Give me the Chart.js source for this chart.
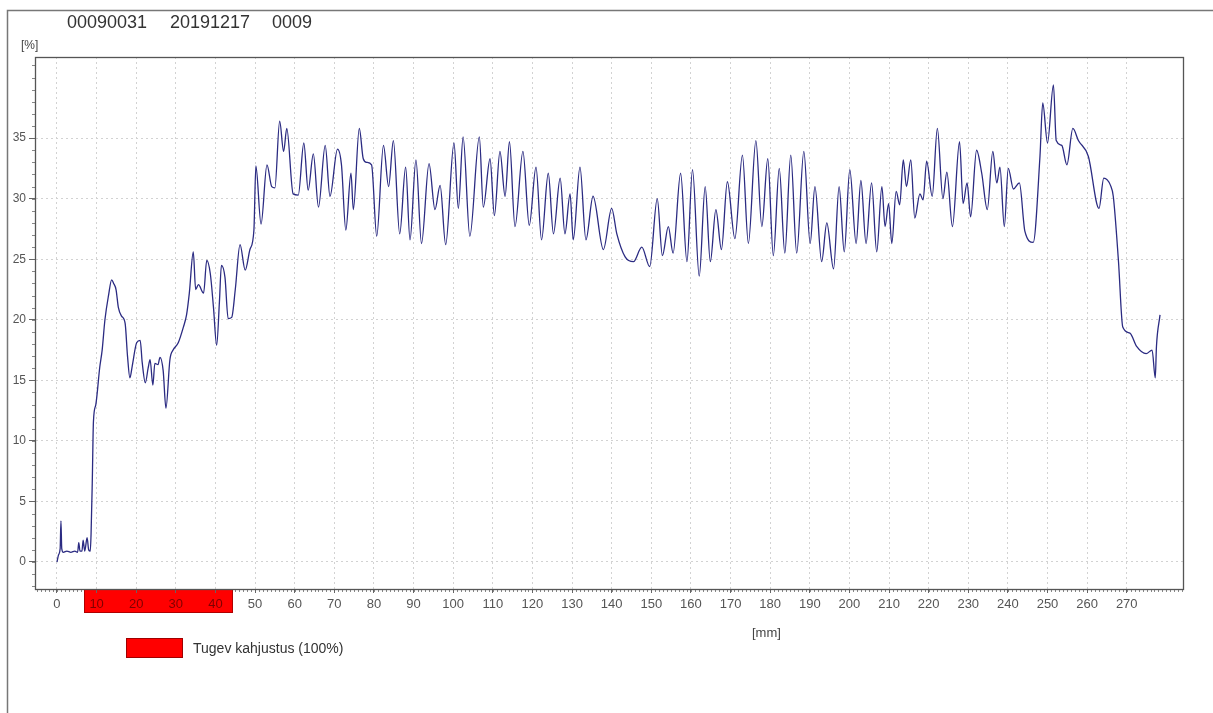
<!DOCTYPE html>
<html><head><meta charset="utf-8">
<script src="https://cdn.jsdelivr.net/npm/chart.js@4.4.1/dist/chart.umd.min.js"></script>
<style>
html,body{margin:0;padding:0;background:#fff;}
#wrap{position:relative;width:1213px;height:713px;overflow:hidden;font-family:"Liberation Sans",Arial,sans-serif;}
canvas{position:absolute;left:0;top:0;}
.t{position:absolute;white-space:pre;color:#333;line-height:1;}
#legbox{position:absolute;left:126px;top:638px;width:55px;height:18px;background:#ff0000;border:1px solid #a00000;}
</style></head><body>
<div id="wrap">
<canvas id="c" width="1213" height="713"></canvas>
<div class="t" id="h0" style="left:67px;top:13px;font-size:18px"></div>
<div class="t" id="h1" style="left:170px;top:13px;font-size:18px"></div>
<div class="t" id="h2" style="left:272px;top:13px;font-size:18px"></div>
<div class="t" style="left:21px;top:39px;font-size:12px;color:#444">[%]</div>
<div class="t" style="left:752px;top:626px;font-size:13px;color:#444">[mm]</div>
<div id="legbox"></div>
<div class="t" id="legtext" style="left:193px;top:641px;font-size:14px;color:#333"></div>
</div>
<script>
const headerTexts = ["00090031", "20191217", "0009"];
const legendLabel = "Tugev kahjustus (100%)";
const xTickValues = [0,10,20,30,40,50,60,70,80,90,100,110,120,130,140,150,160,170,180,190,200,210,220,230,240,250,260,270];
const yTickValues = [0,5,10,15,20,25,30,35];
const damageZoneMm = [6.9, 44.2];

const positionMm = [
0.0,0.4,0.8,1.0,1.2,1.6,2.5,3.5,4.5,5.2,5.5,5.8,6.3,6.6,7.0,7.6,8.0,8.4,8.6,8.9,
9.2,9.8,10.8,11.4,12.1,13.0,13.8,14.3,14.9,15.5,16.3,17.2,17.8,18.4,19.0,20.1,21.0,21.5,22.3,23.0,
23.5,24.2,24.7,25.5,26.0,26.8,27.5,28.5,29.3,30.6,31.9,32.7,33.4,34.4,35.0,35.7,37.0,37.8,38.7,39.5,
40.3,41.0,41.5,42.4,43.2,44.1,45.0,46.2,47.5,48.7,49.7,50.2,51.5,53.0,54.2,55.0,56.2,57.2,58.0,59.6,
60.9,62.3,63.4,64.7,66.0,67.7,68.9,70.8,71.8,72.9,74.2,74.8,76.3,77.3,78.2,79.4,80.7,82.4,83.7,84.9,
86.5,88.0,89.1,90.6,92.0,93.9,95.4,96.7,98.1,100.2,101.3,102.5,104.2,106.6,107.6,109.3,110.4,111.8,113.1,114.2,
115.6,117.6,119.2,120.9,122.3,124.0,125.3,127.0,128.2,129.5,130.3,132.0,133.5,135.3,137.9,140.0,141.3,143.4,145.5,147.6,
149.6,151.5,152.8,154.3,155.5,157.4,159.0,160.4,162.1,163.6,164.9,166.3,167.7,169.2,171.1,173.0,174.5,176.4,177.9,179.4,
180.8,182.3,183.7,185.2,186.7,188.5,190.1,191.3,193.0,194.3,196.0,197.4,198.7,200.1,201.7,202.9,204.2,205.6,206.9,208.2,
209.0,209.9,210.7,211.8,212.7,213.6,214.4,215.5,216.5,217.8,218.6,219.5,220.9,222.2,223.6,224.6,226.0,227.8,228.7,229.7,
230.6,232.1,233.4,234.8,236.2,237.2,238.0,239.1,240.1,241.4,242.9,244.3,246.4,248.1,248.8,250.0,251.5,252.2,253.6,254.9,
256.4,257.8,260.3,263.0,264.2,265.9,266.6,267.9,269.0,270.8,272.5,274.9,276.4,277.2,277.5,278.4
];
const moisturePct = [
0.0,0.6,1.1,3.4,1.1,0.8,0.9,0.8,0.9,0.8,1.6,0.9,0.9,1.8,0.9,2.0,1.0,0.9,2.3,6.5,
11.6,13.0,16.1,17.5,20.0,22.0,23.3,23.0,22.5,21.0,20.3,19.7,17.0,15.2,16.2,18.1,18.3,16.5,14.8,16.0,
16.7,14.6,16.4,16.3,16.9,15.8,12.7,16.7,17.5,18.1,19.4,20.4,22.2,25.6,22.5,22.9,22.2,24.9,23.8,21.0,
17.9,21.5,24.5,23.5,20.1,20.2,22.5,26.2,24.1,25.8,27.4,32.7,27.9,32.8,31.0,30.9,36.4,33.9,35.8,30.4,
30.3,34.6,30.7,33.7,29.3,34.4,30.2,34.1,32.8,27.4,32.1,29.1,35.8,33.3,33.0,32.8,26.9,34.4,31.0,34.8,
27.1,32.6,26.6,33.2,26.3,32.9,29.1,31.1,26.2,34.6,29.2,35.1,26.9,35.1,29.3,33.3,28.6,33.9,30.2,34.7,
27.7,33.9,27.8,32.6,26.6,32.1,27.1,31.7,27.1,30.4,26.6,32.6,26.6,30.2,25.8,29.2,27.1,25.2,24.8,26.0,
24.4,30.0,25.3,27.7,25.5,32.1,24.8,32.4,23.6,31.0,24.8,29.1,25.8,31.4,26.7,33.6,26.3,34.8,27.7,33.3,
25.3,32.5,25.5,33.6,25.5,33.9,26.3,31.0,24.8,28.0,24.2,31.0,25.6,32.4,26.3,31.5,26.3,31.3,25.6,31.0,
27.7,29.6,26.3,30.6,29.5,33.2,31.0,33.2,28.4,30.4,29.9,33.1,30.2,35.8,30.0,32.2,27.7,34.7,29.6,31.3,
28.5,34.0,32.1,29.1,33.9,31.3,32.6,27.7,32.5,30.8,31.3,27.3,26.4,33.5,37.9,34.6,39.4,34.8,34.4,32.8,
35.8,34.8,33.5,29.2,31.7,31.1,30.2,24.9,19.4,18.9,17.8,17.2,17.5,15.2,17.8,20.4
];

headerTexts.forEach((t, i) => { document.getElementById('h' + i).textContent = t; });
document.getElementById('legtext').textContent = legendLabel;

const inZone = v => v >= damageZoneMm[0] && v <= damageZoneMm[1];

const decor = {
  id: 'decor',
  beforeDraw(chart) {
    const {ctx, chartArea: a, scales: {x, y}} = chart;
    ctx.save();
    ctx.strokeStyle = '#888';
    ctx.lineWidth = 1;
    ctx.beginPath();
    for (let v = Math.ceil(x.min); v <= Math.floor(x.max); v++) {
      const px = Math.round(x.getPixelForValue(v)) + 0.5;
      ctx.moveTo(px, a.bottom); ctx.lineTo(px, a.bottom + 3);
    }
    for (let v = Math.ceil(y.min); v <= Math.floor(y.max); v++) {
      const py = Math.round(y.getPixelForValue(v)) + 0.5;
      ctx.moveTo(a.left - 3, py); ctx.lineTo(a.left, py);
    }
    ctx.stroke();
    const x0 = x.getPixelForValue(damageZoneMm[0]);
    const x1 = x.getPixelForValue(damageZoneMm[1]);
    ctx.fillStyle = '#ff0000';
    ctx.fillRect(x0, a.bottom, x1 - x0, 24);
    ctx.strokeStyle = '#b00000';
    ctx.strokeRect(Math.round(x0) + 0.5, a.bottom + 0.5, Math.round(x1 - x0), 23);
    ctx.restore();
  },
  afterDraw(chart) {
    const {ctx, chartArea: a} = chart;
    ctx.save();
    ctx.strokeStyle = '#555';
    ctx.lineWidth = 1.3;
    ctx.strokeRect(a.left + 0.5, a.top + 0.5, a.right - a.left, a.bottom - a.top);
    ctx.strokeStyle = '#777';
    ctx.lineWidth = 1.5;
    ctx.beginPath();
    ctx.moveTo(7.5, 713); ctx.lineTo(7.5, 10.5); ctx.lineTo(1213, 10.5);
    ctx.stroke();
    ctx.restore();
  }
};

new Chart(document.getElementById('c'), {
  type: 'line',
  data: {
    datasets: [{
      data: positionMm.map((v, i) => ({x: v, y: moisturePct[i]})),
      borderColor: '#2b2b82',
      borderWidth: 1.3,
      pointRadius: 0,
      cubicInterpolationMode: 'monotone',
      fill: false
    }]
  },
  options: {
    responsive: false,
    animation: false,
    devicePixelRatio: 1,
    layout: {padding: {left: 0, top: 57, right: 30, bottom: 0}},
    plugins: {legend: {display: false}, tooltip: {enabled: false}, title: {display: false}},
    scales: {
      x: {
        type: 'linear', min: -5.55, max: 284.2,
        afterBuildTicks: s => { s.ticks = xTickValues.map(v => ({value: v})); },
        afterFit: s => { s.height = 124; },
        grid: {color: '#d2d2d2', lineWidth: 1, tickColor: '#666', tickLength: 4},
        border: {display: true, color: '#555', width: 1, dash: [2, 3]},
        ticks: {
          color: c => (c.tick && inZone(c.tick.value)) ? '#800000' : '#555',
          font: {family: 'Liberation Sans', size: 13}, padding: 4, maxRotation: 0, autoSkip: false
        }
      },
      y: {
        type: 'linear', min: -2.23, max: 41.7,
        afterBuildTicks: s => { s.ticks = yTickValues.map(v => ({value: v})); },
        afterFit: s => { s.width = 35; },
        grid: {color: '#d2d2d2', lineWidth: 1, tickColor: '#666', tickLength: 6},
        border: {display: true, color: '#555', width: 1, dash: [2, 3]},
        ticks: {color: '#555', font: {family: 'Liberation Sans', size: 12}, padding: 3, autoSkip: false}
      }
    }
  },
  plugins: [decor]
});
</script>
</body></html>
